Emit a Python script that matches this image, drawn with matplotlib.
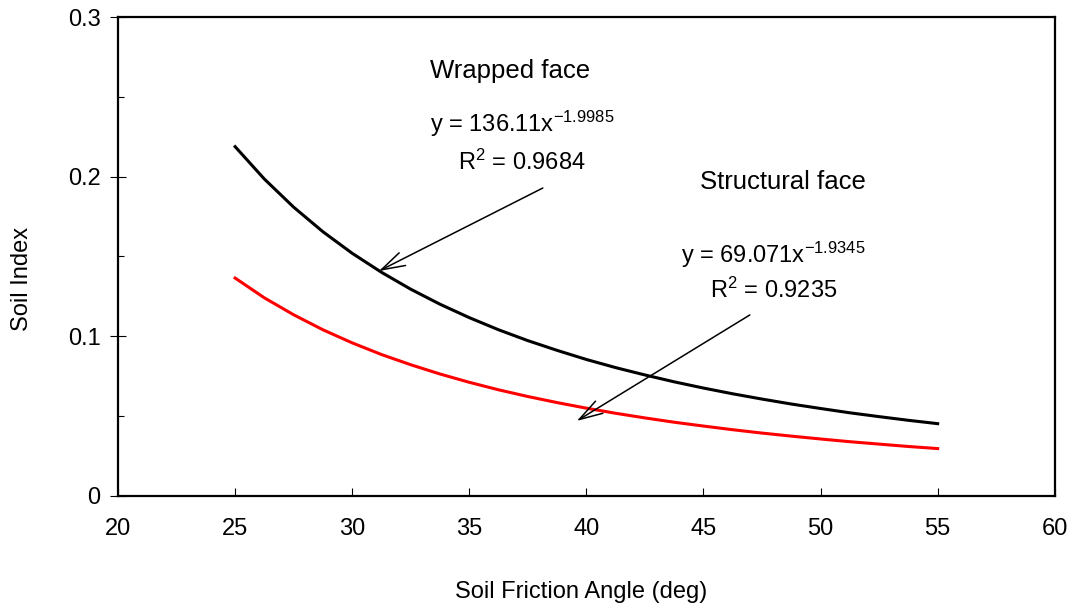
import matplotlib
matplotlib.use("Agg")
import matplotlib.pyplot as plt
from matplotlib.ticker import MultipleLocator, FormatStrFormatter

plt.rcParams['font.family'] = ['Liberation Sans', 'DejaVu Sans']
plt.rcParams['mathtext.fontset'] = 'custom'
plt.rcParams['mathtext.rm'] = 'Liberation Sans'
plt.rcParams['mathtext.it'] = 'Liberation Sans'

# valores
friccion = [25, 26.25, 27.5, 28.75, 30, 31.25, 32.5, 33.75, 35, 36.25, 37.5, 38.75, 40,
            41.25, 42.5, 43.75, 45, 46.25, 47.5, 48.75, 50, 51.25, 52.5, 53.75, 55]
wrapped = [0.2188, 0.1985, 0.1809, 0.1655, 0.1520, 0.1401, 0.1295, 0.1201, 0.1117,
           0.1041, 0.0973, 0.0912, 0.0855, 0.0804, 0.0758, 0.0715, 0.0676, 0.0640,
           0.0607, 0.0576, 0.0548, 0.0521, 0.0497, 0.0474, 0.0453]
structural = [0.1365, 0.1241, 0.1135, 0.1041, 0.0959, 0.0886, 0.0822, 0.0764, 0.0712,
              0.0665, 0.0623, 0.0585, 0.0550, 0.0518, 0.0489, 0.0462, 0.0438, 0.0415,
              0.0394, 0.0375, 0.0357, 0.0340, 0.0325, 0.0310, 0.0297]

fig = plt.figure(figsize=(10.73, 6.14), dpi=100)
ax = fig.add_axes([0.110, 0.1922, 0.873, 0.7801])

ax.plot(friccion, wrapped, color='black', lw=2.2, solid_joinstyle='round')
ax.plot(friccion, structural, color='#ff0000', lw=2.2, solid_joinstyle='round')

ax.set_xlim(20, 60)
ax.set_ylim(0, 0.3)
ax.xaxis.set_major_locator(MultipleLocator(5))
ax.yaxis.set_major_locator(MultipleLocator(0.1))
ax.yaxis.set_minor_locator(MultipleLocator(0.05))
ax.yaxis.set_major_formatter(FormatStrFormatter('%g'))

for s in ax.spines.values():
    s.set_linewidth(1.6)
ax.tick_params(axis='x', direction='in', length=6, width=0.8, pad=16, labelsize=17)
ax.tick_params(axis='y', which='major', direction='inout', length=11, width=0.8, pad=7, labelsize=17)
ax.tick_params(axis='y', which='minor', direction='in', length=4, width=0.8)

fig.text(22 / 1073, 1 - 279 / 614, 'Soil Index', rotation=90, ha='center', va='center', fontsize=17)
fig.text(581 / 1073, 1 - 598 / 614, 'Soil Friction Angle (deg)', ha='center', va='baseline', fontsize=17)

ax.text(36.73, 0.2618, 'Wrapped face', ha='center', va='baseline', fontsize=18.5)
ax.text(37.25, 0.228, r'y = 136.11x$^{\mathregular{-1.9985}}$', ha='center', va='baseline', fontsize=17)
ax.text(37.25, 0.2042, r'R$^{\mathregular{2}}$ = 0.9684', ha='center', va='baseline', fontsize=17)

ax.text(48.39, 0.1923, 'Structural face', ha='center', va='baseline', fontsize=18.5)
ax.text(48.0, 0.1459, r'y = 69.071x$^{\mathregular{-1.9345}}$', ha='center', va='baseline', fontsize=17)
ax.text(48.0, 0.124, r'R$^{\mathregular{2}}$ = 0.9235', ha='center', va='baseline', fontsize=17)

flecha = dict(arrowstyle='->,head_length=1.0,head_width=0.3', color='black', lw=1.1,
              mutation_scale=17, shrinkA=0, shrinkB=0)
ax.annotate('', xy=(31.14, 0.1409), xytext=(38.14, 0.1929), arrowprops=flecha)
ax.annotate('', xy=(39.59, 0.047), xytext=(46.98, 0.1134), arrowprops=flecha)

fig.savefig('out.png', dpi=100)
